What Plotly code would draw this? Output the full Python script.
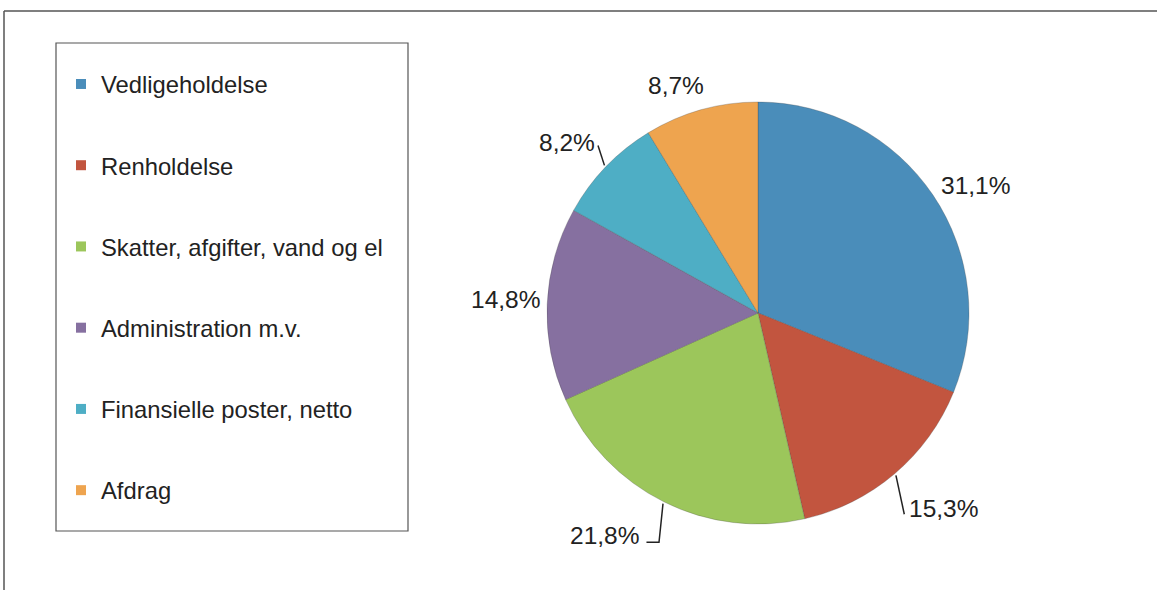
import math
import plotly.graph_objects as go

# ---------------- data ----------------
categories = [
    "Vedligeholdelse",
    "Renholdelse",
    "Skatter, afgifter, vand og el",
    "Administration m.v.",
    "Finansielle poster, netto",
    "Afdrag",
]
shares = [31.1, 15.3, 21.8, 14.8, 8.2, 8.7]
label_texts = [f"{v:.1f}%".replace(".", ",") for v in shares]

# ---------------- style ----------------
colors = ["#4a8dba", "#c2553f", "#9cc65b", "#8670a0", "#4eaec5", "#eea44f"]
W, H = 1157, 590
CX, CY, R = 758, 313, 211                      # pie centre / radius in pixels
label_dist = [252, 269, 270, 253, 256, 242]    # label distance from centre (px)
label_turn = [3.5, -3.1, 8.1, 0.6, -2.1, -4.1]  # label angle offset from slice middle (deg)
leader_kind = [None, "straight", "elbow", None, "straight", None]
FONT = "Liberation Sans, Arial, sans-serif"
FS_LAB = 24.5
FS_LEG = 23.8
TXT = "#222222"


def px(x):
    return x / W


def py(y):
    return 1 - y / H


CHAR_W = {"%": 0.889, ",": 0.278}


def text_w(s):
    return sum(CHAR_W.get(c, 0.556) for c in s) * FS_LAB


fig = go.Figure()

fig.add_trace(go.Pie(
    labels=categories,
    values=shares,
    sort=False,
    direction="clockwise",
    rotation=0,
    textinfo="none",
    showlegend=False,
    marker=dict(colors=colors, line=dict(color="rgba(70,70,70,0.35)", width=0.8)),
    domain=dict(x=[px(CX - R), px(CX + R)], y=[py(CY + R), py(CY - R)]),
))

# legend entries (dummy traces so that the legend can be spaced like the original)
for name, col in zip(categories, colors):
    fig.add_trace(go.Scatter(
        x=[None], y=[None], mode="markers", name=name, legendgroup=name,
        marker=dict(symbol="square", size=10, color=col),
    ))

# ---------------- data labels ----------------
total = sum(shares)
annotations = []
shapes = []
cum = 0.0
for v, t, d, turn, kind in zip(shares, label_texts, label_dist, label_turn, leader_kind):
    mid = (cum + v / 2) / total * 2 * math.pi
    cum += v
    la = mid + math.radians(turn)
    tx, ty = CX + d * math.sin(la), CY - d * math.cos(la)
    annotations.append(dict(
        x=px(tx), y=py(ty), xref="paper", yref="paper", text=t,
        showarrow=False, xanchor="center", yanchor="middle",
        font=dict(family=FONT, size=FS_LAB, color=TXT),
    ))
    if kind:
        s, c = math.sin(mid), math.cos(mid)
        p0 = (CX + (R + 2) * s, CY - (R + 2) * c)
        hw = text_w(t) / 2
        if kind == "straight":
            if s > 0:
                p1 = (tx - hw - 4, ty + 6)
            else:
                p1 = (tx + hw + 3, ty + 3)
            pts = [p1, p0]
        else:
            y1 = ty + 7
            pts = [(tx + hw + 7, y1), (p0[0] - 4, y1), p0]
        path = "M " + " L ".join(f"{px(a):.5f},{py(b):.5f}" for a, b in pts)
        shapes.append(dict(type="path", xref="paper", yref="paper", path=path,
                           line=dict(color=TXT, width=1.5)))

# outer frame (top and left edges visible)
shapes.append(dict(type="line", xref="paper", yref="paper",
                   x0=px(4), y0=py(11), x1=1, y1=py(11),
                   line=dict(color="#555555", width=1.5)))
shapes.append(dict(type="line", xref="paper", yref="paper",
                   x0=px(4), y0=py(11), x1=px(4), y1=0,
                   line=dict(color="#555555", width=1.5)))
# legend box
shapes.append(dict(type="rect", xref="paper", yref="paper",
                   x0=px(56), y0=py(43), x1=px(408), y1=py(531),
                   line=dict(color="#555555", width=1.2), fillcolor="rgba(0,0,0,0)"))

fig.update_layout(
    width=W, height=H,
    margin=dict(l=0, r=0, t=0, b=0),
    paper_bgcolor="white", plot_bgcolor="white",
    xaxis=dict(visible=False), yaxis=dict(visible=False),
    showlegend=True,
    legend=dict(
        x=px(61), y=py(62), xanchor="left", yanchor="top",
        bgcolor="rgba(0,0,0,0)", borderwidth=0,
        font=dict(family=FONT, size=FS_LEG, color=TXT),
        tracegroupgap=47.3, itemclick=False, itemdoubleclick=False,
    ),
    annotations=annotations,
    shapes=shapes,
)

fig.write_html("out.html")
